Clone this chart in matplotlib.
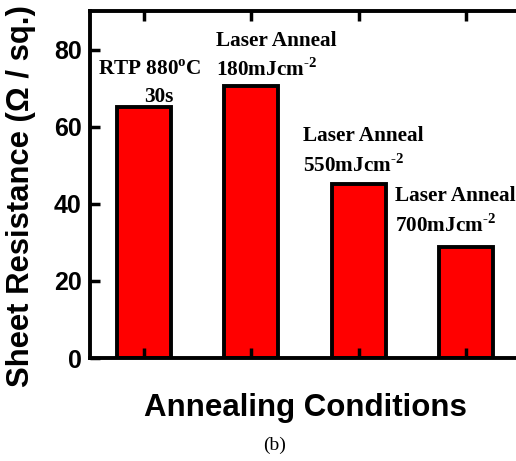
import matplotlib
matplotlib.use("Agg")
import matplotlib.pyplot as plt

# sheet resistance for each annealing condition
positions = [1, 2, 3, 4]
resistance = [65.0, 70.5, 45.0, 28.7]

# bar captions: (x, y, text, horizontal alignment)
captions = [
    (0.574, 73.3, "RTP 880$^{\\rm o}$C", "left"),
    (1.142, 66.5, "30s", "center"),
    (1.672, 81.0, "Laser Anneal", "left"),
    (1.672, 73.3, "180mJcm$^{\\text{-2}}$", "left"),
    (2.481, 56.4, "Laser Anneal", "left"),
    (2.481, 48.2, "550mJcm$^{\\text{-2}}$", "left"),
    (3.333, 40.7, "Laser Anneal", "left"),
    (3.333, 32.7, "700mJcm$^{\\text{-2}}$", "left"),
]

plt.rcParams["mathtext.fontset"] = "custom"
plt.rcParams["mathtext.rm"] = "Liberation Serif:bold"

fig = plt.figure(figsize=(5.16, 4.61), dpi=100)
ax = fig.add_axes([90 / 516, 103 / 461, 430 / 516, 347 / 461])

ax.bar(positions, resistance, width=0.5, color="#ff0000",
       edgecolor="black", linewidth=2.8)

for x, y, text, ha in captions:
    ax.text(x, y, text, ha=ha, va="baseline", family="Liberation Serif",
            fontweight="bold", fontsize=15.3)

ax.set_xlim(0.5, 4.5)
ax.set_ylim(0, 90)
ax.set_xticks(positions)
ax.set_xticklabels([])
ax.set_yticks([0, 20, 40, 60, 80])
ax.tick_params(direction="in", width=2.5, length=7, top=True, right=False,
               labelsize=18, pad=6)
for lab in ax.get_yticklabels():
    lab.set_fontweight("bold")
    lab.set_family("Liberation Sans")
for sp in ax.spines.values():
    sp.set_linewidth(2.8)

fig.text(21 / 516, 1 - 196 / 461, "Sheet Resistance (\u03a9 / sq.)",
         family="Liberation Sans", fontweight="bold", fontsize=22.3,
         rotation=90, ha="center", va="center")
ax.set_xlabel("Annealing Conditions", family="Liberation Sans",
              fontweight="bold", fontsize=22.5, labelpad=19)
fig.text(275 / 516, 1 - 445 / 461, "(b)", family="Liberation Serif",
         fontsize=14, ha="center", va="center")

fig.savefig("out.png", dpi=100)
